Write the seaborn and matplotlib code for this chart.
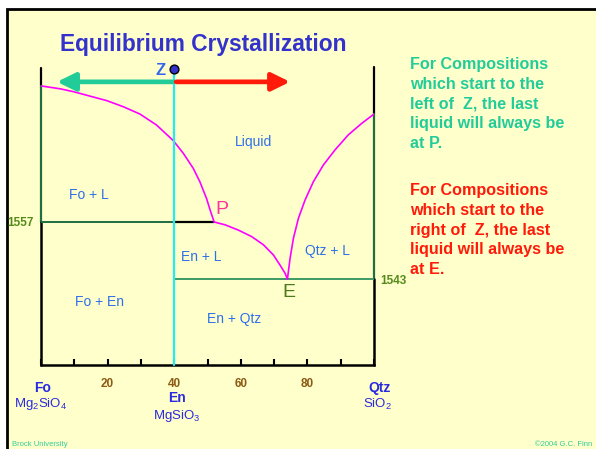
import matplotlib
matplotlib.use("Agg")
import matplotlib.pyplot as plt
import matplotlib.patches as mpatches
import seaborn as sns

# ---- data (wt% SiO2, schematic temperature) ----
T_PERITECTIC = 1557
T_EUTECTIC = 1543
X_EN = 40
X_P = 52
X_E = 74
T_TOP = 1594.8
T_BOTTOM = 1521.9
T_ARROW = 1591.4

comp_ticks = [0, 10, 20, 30, 40, 50, 60, 70, 80, 90, 100]
tick_labels = ["", "", "20", "", "40", "", "60", "", "80", "", ""]

# forsterite liquidus (Fo -> P)
fo_liq_x = [0, 5.7, 9.7, 14.7, 19.7, 24.7, 29.7, 34.7, 39.7, 42.7, 45.7, 47.7, 49.7, 50.8, 52]
fo_liq_t = [1590.4, 1589.7, 1589.0, 1587.9, 1586.8, 1585.3, 1583.5, 1580.8,
            1577.0, 1573.9, 1570.2, 1566.9, 1562.8, 1559.9, 1557.0]
# enstatite liquidus (P -> E)
en_liq_x = [52, 55.3, 59.3, 63.3, 66.8, 69.8, 71.8, 73.3, 74.0]
en_liq_t = [1557.0, 1556.3, 1555.0, 1553.4, 1551.4, 1548.9, 1546.4, 1544.4, 1543.0]
# quartz liquidus (E -> SiO2)
qtz_liq_x = [74.0, 74.8, 75.8, 77.3, 79.3, 81.8, 84.8, 88.3, 92.3, 96.3, 100]
qtz_liq_t = [1543.0, 1548.1, 1553.0, 1557.9, 1562.4, 1566.9, 1571.0, 1574.7, 1578.4, 1581.2, 1583.5]

field_labels = ["Liquid", "Fo + L", "En + L", "Qtz + L", "Fo + En", "En + Qtz"]
field_x = [63.7, 14.4, 48.0, 85.9, 17.7, 58.0]
field_t = [1576.6, 1563.6, 1548.4, 1549.9, 1537.4, 1533.2]

left_note = "For Compositions\nwhich start to the\nleft of  Z, the last\nliquid will always be\nat P."
right_note = "For Compositions\nwhich start to the\nright of  Z, the last\nliquid will always be\nat E."

# ---- style ----
sns.set_theme(style="white")
plt.rcParams["font.family"] = ["Liberation Sans", "DejaVu Sans"]
plt.rcParams["mathtext.fontset"] = "custom"
plt.rcParams["mathtext.rm"] = "Liberation Sans"

CREAM = "#ffffcc"
DKGREEN = "#1f6e40"
MDGREEN = "#3c9a66"
LBLUE = "#2f6fe8"
BLUE = "#2a2ae0"
TEAL = "#22cc99"
RED = "#ff1a0a"
OLIVE = "#558a1a"

W, H = 596, 449
fig = plt.figure(figsize=(W / 100, H / 100), dpi=100)
fig.patch.set_facecolor("white")
# slide frame
fig.patches.append(mpatches.Rectangle((7 / W, -0.05), 1.0, 1 - 9 / H + 0.05,
                                      transform=fig.transFigure, facecolor=CREAM,
                                      edgecolor="black", lw=2, zorder=-5))

ax = fig.add_axes([41 / W, 1 - 365 / H, 333 / W, (365 - 68) / H])
ax.set_facecolor("none")
ax.set_xlim(0, 100)
ax.set_ylim(T_BOTTOM, T_TOP)
for s in ["left", "right", "top"]:
    ax.spines[s].set_visible(False)
ax.spines["bottom"].set_color("black")
ax.spines["bottom"].set_linewidth(1.8)
ax.set_yticks([])
ax.set_xticks(comp_ticks)
ax.set_xticklabels(tick_labels, fontsize=8.5, fontweight="bold", color="#8b5a14")
ax.tick_params(axis="x", direction="in", length=4, width=1.5, color="black", pad=9.5, bottom=True)
ax.set_xlabel("")
ax.set_ylabel("")

# frame verticals
ax.plot([0, 0], [fo_liq_t[0], T_TOP], color="black", lw=1.6, clip_on=False)
ax.plot([0, 0], [T_PERITECTIC, fo_liq_t[0]], color=DKGREEN, lw=1.6, clip_on=False)
ax.plot([0, 0], [T_BOTTOM, T_PERITECTIC], color="black", lw=1.8, clip_on=False)
ax.plot([100, 100], [qtz_liq_t[-1], T_TOP + 0.3], color="black", lw=1.6, clip_on=False)
ax.plot([100, 100], [T_EUTECTIC, qtz_liq_t[-1]], color=DKGREEN, lw=1.6, clip_on=False)
ax.plot([100, 100], [T_BOTTOM, T_EUTECTIC], color="black", lw=1.8, clip_on=False)

# isotherms
ax.plot([0, X_EN], [T_PERITECTIC, T_PERITECTIC], color=DKGREEN, lw=1.4)
ax.plot([X_EN, X_P], [T_PERITECTIC, T_PERITECTIC], color="black", lw=1.6)
ax.plot([X_EN, 100], [T_EUTECTIC, T_EUTECTIC], color=MDGREEN, lw=1.4)

# En composition line
ax.plot([X_EN, X_EN], [T_BOTTOM, T_TOP], color="#22ecec", lw=1.6, clip_on=False, zorder=3)

# liquidus curves
for xs, ts in [(fo_liq_x, fo_liq_t), (en_liq_x, en_liq_t), (qtz_liq_x, qtz_liq_t)]:
    sns.lineplot(x=xs, y=ts, sort=False, estimator=None, color="#ff00ff", lw=1.2, ax=ax)

# arrows from Z
ax.annotate("", xy=(4.8, T_ARROW), xytext=(39.5, T_ARROW),
            arrowprops=dict(arrowstyle="-|>,head_length=0.55,head_width=0.27",
                            mutation_scale=20, lw=3.4, color=TEAL, shrinkA=0, shrinkB=0),
            annotation_clip=False)
ax.plot([9, 39.5], [T_ARROW + 0.25, T_ARROW + 0.25], color="#a8f0d8", lw=1.0)
ax.annotate("", xy=(74.8, T_ARROW), xytext=(40.6, T_ARROW),
            arrowprops=dict(arrowstyle="-|>,head_length=0.55,head_width=0.27",
                            mutation_scale=20, lw=3.4, color=RED, shrinkA=0, shrinkB=0),
            annotation_clip=False)
ax.plot([40.6, 70.5], [T_ARROW, T_ARROW], color="#ff9070", lw=1.0)

ax.scatter([X_EN], [T_TOP - 0.2], s=40, color="#3333cc", edgecolor="black",
           linewidth=1, zorder=6, clip_on=False)
ax.text(X_EN - 4.2, T_TOP - 0.5, "Z", fontsize=12, fontweight="bold", color="#3366ee",
        ha="center", va="center")

# field labels
for lab, x, t in zip(field_labels, field_x, field_t):
    ax.text(x, t, lab, fontsize=10, color=LBLUE, ha="center", va="center")
ax.text(X_P + 2.4, T_PERITECTIC + 3.0, "P", fontsize=14, color="#ff3399", ha="center", va="center")
ax.text(X_E + 0.5, T_EUTECTIC - 3.4, "E", fontsize=14, color="#4a7a1a", ha="center", va="center")

# temperature labels
ax.text(-6.3, T_PERITECTIC - 0.2, "1557", fontsize=8.5, fontweight="bold", color=OLIVE,
        ha="center", va="center", clip_on=False)
ax.text(105.7, T_EUTECTIC - 0.6, "1543", fontsize=8.5, fontweight="bold", color=OLIVE,
        ha="center", va="center", clip_on=False)


def ft(x, y, s, **kw):
    fig.text(x / W, 1 - y / H, s, **kw)


# end-member labels
ft(43, 388, "Fo", fontsize=10, fontweight="bold", color=BLUE, ha="center", va="center")
ft(41, 404, "Mg$_2$SiO$_4$", fontsize=9.5, color=BLUE, ha="center", va="center")
ft(177, 398, "En", fontsize=10, fontweight="bold", color=BLUE, ha="center", va="center")
ft(177, 416, "MgSiO$_3$", fontsize=9.5, color=BLUE, ha="center", va="center")
ft(380, 388, "Qtz", fontsize=10, fontweight="bold", color=BLUE, ha="center", va="center")
ft(377, 404, "SiO$_2$", fontsize=9.5, color=BLUE, ha="center", va="center")

# title and notes
ft(203, 44, "Equilibrium Crystallization", fontsize=16.4, fontweight="bold",
   color="#3333cc", ha="center", va="center")
ft(410, 57, left_note, fontsize=11.6, fontweight="bold", color=TEAL,
   ha="left", va="top", linespacing=1.4)
ft(410, 183, right_note, fontsize=11.6, fontweight="bold", color=RED,
   ha="left", va="top", linespacing=1.4)

ft(12, 445, "Brock University", fontsize=5.5, color="#33cc99", ha="left", va="center")
ft(592, 445, "\u00a92004 G.C. Finn", fontsize=5.5, color="#33cc99", ha="right", va="center")

fig.savefig("out.png", dpi=100)
